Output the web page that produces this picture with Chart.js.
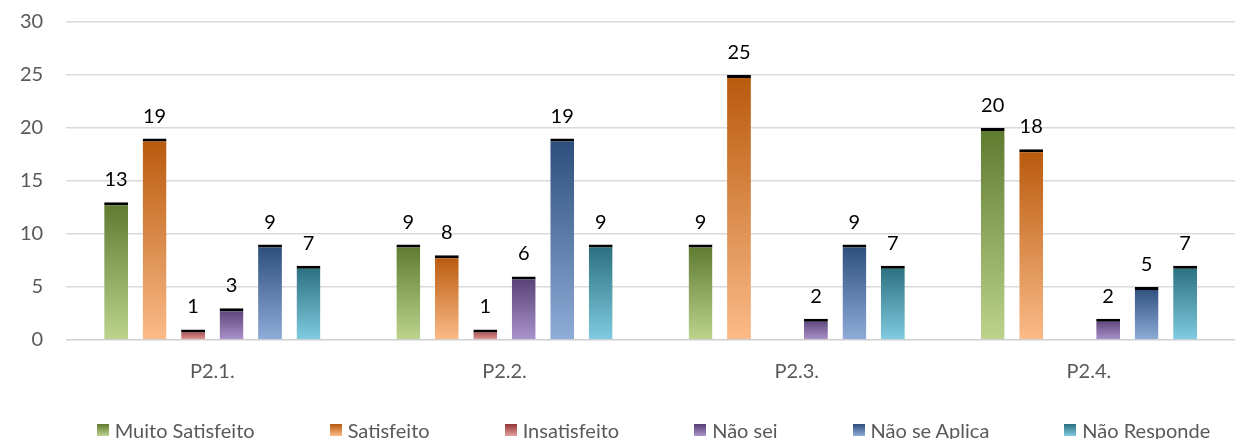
<!DOCTYPE html>
<html>
<head>
<meta charset="utf-8">
<script src="https://cdn.jsdelivr.net/npm/chart.js@4.4.0/dist/chart.umd.min.js"></script>
<style>
  html, body { margin: 0; padding: 0; background: #fff; }
  #quadro { position: relative; width: 1237px; height: 439px; }
  #legenda {
    position: absolute; left: 0; top: 418px; width: 1237px; height: 24px;
    display: flex; justify-content: center; padding-left: 70px; box-sizing: border-box;
    font-family: Lato, sans-serif; font-size: 20px; color: #595959; line-height: 24px;
  }
  #legenda .item { display: flex; align-items: center; margin-right: 75px; white-space: nowrap; }
  #legenda .item:last-child { margin-right: 0; }
  #legenda .caixa { width: 12px; height: 12px; margin-right: 6px; }
</style>
</head>
<body>
<div id="quadro">
  <canvas id="satisfacao" width="1237" height="439"></canvas>
  <div id="legenda"></div>
</div>
<script>
// dados
const perguntas = ["P2.1.", "P2.2.", "P2.3.", "P2.4."];
const muitoSatisfeito = [13, 9, 9, 20];
const satisfeito = [19, 8, 25, 18];
const insatisfeito = [1, 1, null, null];
const naoSei = [3, 6, 2, 2];
const naoSeAplica = [9, 19, 9, 5];
const naoResponde = [7, 9, 7, 7];
const yMax = 30;
const yStep = 5;

const cores = {
    muito : ["#5e7a2f", "#bcd48e"],
    sat   : ["#b8590c", "#fbbb88"],
    insat : ["#943634", "#e3a09e"],
    naosei: ["#553f74", "#ab94cb"],
    aplica: ["#2c4d7b", "#90acd9"],
    resp  : ["#2a6e7e", "#80cce0"]
};

// degradê vertical por barra (claro em baixo, escuro em cima)
function degrade(par) {
    return (ctx) => {
        if (ctx.type !== "data" || ctx.raw == null) return par[0];
        const y = ctx.chart.scales.y;
        const topo = y.getPixelForValue(ctx.raw);
        const base = y.getPixelForValue(0);
        if (!isFinite(topo) || !isFinite(base) || topo === base) return par[0];
        const g = ctx.chart.ctx.createLinearGradient(0, base, 0, topo);
        g.addColorStop(0, par[1]);
        g.addColorStop(1, par[0]);
        return g;
    };
}

function serie(nome, valores, par) {
    return {
        label : nome,
        data : valores,
        backgroundColor : degrade(par),
        borderColor : "#000000",
        borderWidth : { top : 3, right : 0, bottom : 0, left : 0 },
        borderSkipped : "start",
        categoryPercentage : 0.79,
        barPercentage : 0.62
    };
}

// rótulos de valor acima das barras
const rotulos = {
    id : "rotulos",
    afterDatasetsDraw(chart) {
        const c = chart.ctx;
        c.save();
        c.font = "20px Lato";
        c.fillStyle = "#000000";
        c.textAlign = "center";
        c.textBaseline = "alphabetic";
        chart.data.datasets.forEach((ds, i) => {
            const meta = chart.getDatasetMeta(i);
            meta.data.forEach((bar, j) => {
                const v = ds.data[j];
                if (v == null) return;
                c.fillText(String(v), bar.x, bar.y - 16);
            });
        });
        c.restore();
    }
};

const series = [
    ["Muito Satisfeito", muitoSatisfeito, cores.muito],
    ["Satisfeito", satisfeito, cores.sat],
    ["Insatisfeito", insatisfeito, cores.insat],
    ["Não sei", naoSei, cores.naosei],
    ["Não se Aplica", naoSeAplica, cores.aplica],
    ["Não Responde", naoResponde, cores.resp]
];

const grafico = new Chart("satisfacao", {
    type : "bar",
    data : {
        labels : perguntas,
        datasets : series.map((s) => serie(s[0], s[1], s[2]))
    },
    options : {
        responsive : false,
        animation : false,
        layout : { padding : { top : 0, left : 10, right : 2, bottom : 35 } },
        scales : {
            x : {
                grid : { display : false, drawTicks : false },
                border : { display : false },
                ticks : { color : "#595959", font : { family : "Lato", size : 20 }, padding : 20 }
            },
            y : {
                min : 0,
                max : yMax,
                ticks : { stepSize : yStep, color : "#595959", font : { family : "Lato", size : 20 }, padding : 10 },
                grid : {
                    drawTicks : true,
                    tickLength : 13,
                    tickColor : "rgba(0,0,0,0)",
                    color : (ctx) => ctx.tick && ctx.tick.value === 0 ? "#cfcfcf" : "#dadada",
                    lineWidth : 1.5
                },
                border : { display : false }
            }
        },
        plugins : {
            tooltip : { enabled : false },
            legend : { display : false }
        }
    },
    plugins : [rotulos]
});

// legenda em HTML, feita a partir das séries
const legenda = document.getElementById("legenda");
series.forEach((s) => {
    const item = document.createElement("span");
    item.className = "item";
    const caixa = document.createElement("span");
    caixa.className = "caixa";
    caixa.style.background = "linear-gradient(to bottom, " + s[2][0] + ", " + s[2][1] + ")";
    item.appendChild(caixa);
    item.appendChild(document.createTextNode(s[0]));
    legenda.appendChild(item);
});
</script>
</body>
</html>
